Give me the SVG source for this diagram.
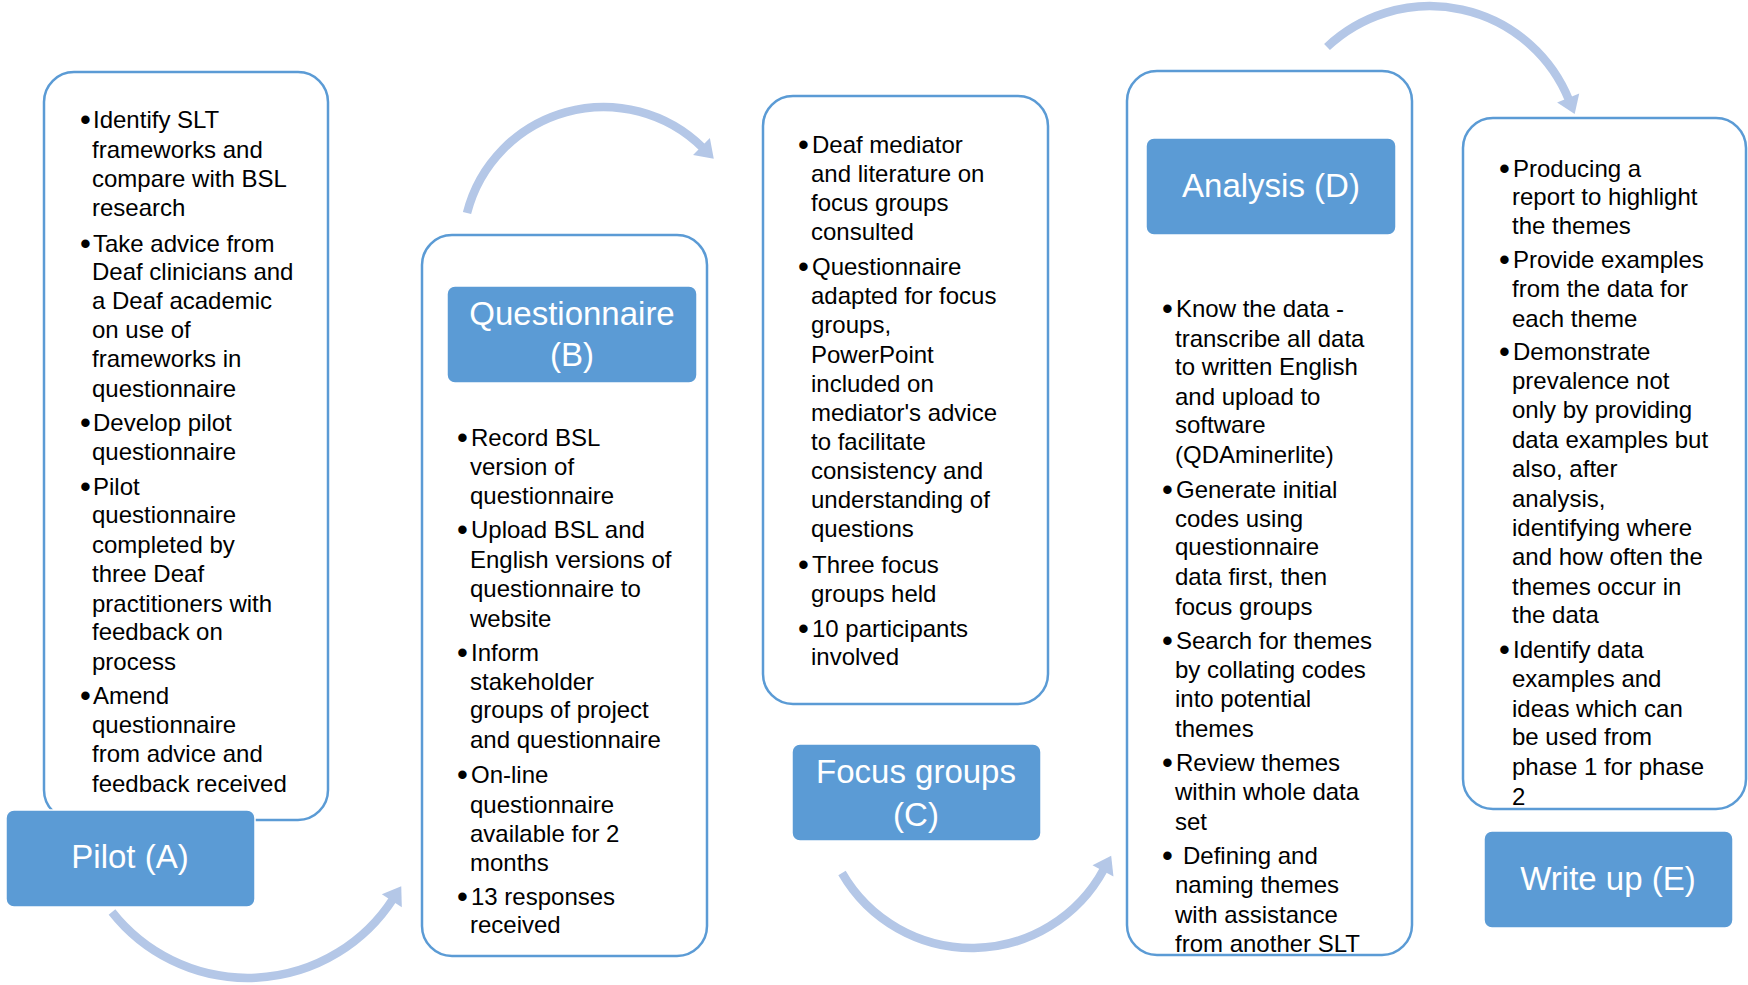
<svg xmlns="http://www.w3.org/2000/svg" width="1748" height="985" viewBox="0 0 1748 985">
<defs>
<style>
.outline{fill:#FFFFFF;stroke:#5B9BD5;stroke-width:2.5}
.label{fill:#5B9BD5;stroke:#FFFFFF;stroke-width:1.5}
.body{font-family:"Liberation Sans",Arial,sans-serif;font-size:24px;fill:#000000}
.bul{font-family:"Liberation Sans",Arial,sans-serif;font-size:31px;fill:#000000}
.title{font-family:"Liberation Sans",Arial,sans-serif;font-size:33px;fill:#FFFFFF;text-anchor:middle}
.arc{fill:none;stroke:#B4C7E7;stroke-width:8.5;marker-end:url(#head)}
</style>
<marker id="head" markerUnits="userSpaceOnUse" markerWidth="24" markerHeight="26" viewBox="0 -12 18 24" refX="2" refY="0" orient="auto">
<path d="M0,-11 L16,0 L0,11 Z" fill="#B4C7E7"/>
</marker>
</defs>
<rect width="1748" height="985" fill="#FFFFFF"/>

<g id="node-pilot">
<rect class="outline" x="44" y="72" width="284" height="748" rx="30"/>
<text class="bul"><tspan x="80" y="130">•</tspan><tspan x="80" y="254">•</tspan><tspan x="80" y="433">•</tspan><tspan x="80" y="497">•</tspan><tspan x="80" y="706">•</tspan></text>
<text class="body">
<tspan x="93" y="128">Identify SLT</tspan>
<tspan x="92" y="158">frameworks and</tspan>
<tspan x="92" y="187">compare with BSL</tspan>
<tspan x="92" y="216">research</tspan>
<tspan x="93" y="252">Take advice from</tspan>
<tspan x="92" y="280">Deaf clinicians and</tspan>
<tspan x="92" y="309">a Deaf academic</tspan>
<tspan x="92" y="338">on use of</tspan>
<tspan x="92" y="367">frameworks in</tspan>
<tspan x="92" y="397">questionnaire</tspan>
<tspan x="93" y="431">Develop pilot</tspan>
<tspan x="92" y="460">questionnaire</tspan>
<tspan x="93" y="495">Pilot</tspan>
<tspan x="92" y="523">questionnaire</tspan>
<tspan x="92" y="553">completed by</tspan>
<tspan x="92" y="582">three Deaf</tspan>
<tspan x="92" y="612">practitioners with</tspan>
<tspan x="92" y="640">feedback on</tspan>
<tspan x="92" y="670">process</tspan>
<tspan x="93" y="704">Amend</tspan>
<tspan x="92" y="733">questionnaire</tspan>
<tspan x="92" y="762">from advice and</tspan>
<tspan x="92" y="792">feedback received</tspan>
</text>
<rect class="label" x="6" y="810" width="249" height="97" rx="8"/>
<text class="title" x="130" y="868">Pilot (A)</text>
</g>

<g id="node-questionnaire">
<rect class="outline" x="422" y="235" width="285" height="721" rx="30"/>
<rect class="label" x="447" y="286" width="250" height="97" rx="8"/>
<text class="title"><tspan x="572" y="325">Questionnaire</tspan><tspan x="572" y="366">(B)</tspan></text>
<text class="bul"><tspan x="457" y="448">•</tspan><tspan x="457" y="540">•</tspan><tspan x="457" y="663">•</tspan><tspan x="457" y="785">•</tspan><tspan x="457" y="907">•</tspan></text>
<text class="body">
<tspan x="471" y="446">Record BSL</tspan>
<tspan x="470" y="475">version of</tspan>
<tspan x="470" y="504">questionnaire</tspan>
<tspan x="471" y="538">Upload BSL and</tspan>
<tspan x="470" y="568">English versions of</tspan>
<tspan x="470" y="597">questionnaire to</tspan>
<tspan x="470" y="627">website</tspan>
<tspan x="471" y="661">Inform</tspan>
<tspan x="470" y="690">stakeholder</tspan>
<tspan x="470" y="718">groups of project</tspan>
<tspan x="470" y="748">and questionnaire</tspan>
<tspan x="471" y="783">On-line</tspan>
<tspan x="470" y="813">questionnaire</tspan>
<tspan x="470" y="842">available for 2</tspan>
<tspan x="470" y="871">months</tspan>
<tspan x="471" y="905">13 responses</tspan>
<tspan x="470" y="933">received</tspan>
</text>
</g>

<g id="node-focus">
<rect class="outline" x="763" y="96" width="285" height="608" rx="30"/>
<text class="bul"><tspan x="798" y="155">•</tspan><tspan x="798" y="277">•</tspan><tspan x="798" y="575">•</tspan><tspan x="798" y="639">•</tspan></text>
<text class="body">
<tspan x="812" y="153">Deaf mediator</tspan>
<tspan x="811" y="182">and literature on</tspan>
<tspan x="811" y="211">focus groups</tspan>
<tspan x="811" y="240">consulted</tspan>
<tspan x="812" y="275">Questionnaire</tspan>
<tspan x="811" y="304">adapted for focus</tspan>
<tspan x="811" y="333">groups,</tspan>
<tspan x="811" y="363">PowerPoint</tspan>
<tspan x="811" y="392">included on</tspan>
<tspan x="811" y="421">mediator's advice</tspan>
<tspan x="811" y="450">to facilitate</tspan>
<tspan x="811" y="479">consistency and</tspan>
<tspan x="811" y="508">understanding of</tspan>
<tspan x="811" y="537">questions</tspan>
<tspan x="812" y="573">Three focus</tspan>
<tspan x="811" y="602">groups held</tspan>
<tspan x="812" y="637">10 participants</tspan>
<tspan x="811" y="665">involved</tspan>
</text>
<rect class="label" x="792" y="744" width="249" height="97" rx="8"/>
<text class="title"><tspan x="916" y="783">Focus groups</tspan><tspan x="916" y="826">(C)</tspan></text>
</g>

<g id="node-analysis">
<rect class="outline" x="1127" y="71" width="285" height="884" rx="30"/>
<rect class="label" x="1146" y="138" width="250" height="97" rx="8"/>
<text class="title" x="1271" y="197">Analysis (D)</text>
<text class="bul"><tspan x="1162" y="319">•</tspan><tspan x="1162" y="500">•</tspan><tspan x="1162" y="651">•</tspan><tspan x="1162" y="773">•</tspan><tspan x="1162" y="866">•</tspan></text>
<text class="body">
<tspan x="1176" y="317">Know the data -</tspan>
<tspan x="1175" y="347">transcribe all data</tspan>
<tspan x="1175" y="375">to written English</tspan>
<tspan x="1175" y="405">and upload to</tspan>
<tspan x="1175" y="433">software</tspan>
<tspan x="1175" y="463">(QDAminerlite)</tspan>
<tspan x="1176" y="498">Generate initial</tspan>
<tspan x="1175" y="527">codes using</tspan>
<tspan x="1175" y="555">questionnaire</tspan>
<tspan x="1175" y="585">data first, then</tspan>
<tspan x="1175" y="615">focus groups</tspan>
<tspan x="1176" y="649">Search for themes</tspan>
<tspan x="1175" y="678">by collating codes</tspan>
<tspan x="1175" y="707">into potential</tspan>
<tspan x="1175" y="737">themes</tspan>
<tspan x="1176" y="771">Review themes</tspan>
<tspan x="1175" y="800">within whole data</tspan>
<tspan x="1175" y="830">set</tspan>
<tspan x="1183" y="864">Defining and</tspan>
<tspan x="1175" y="893">naming themes</tspan>
<tspan x="1175" y="923">with assistance</tspan>
<tspan x="1175" y="952">from another SLT</tspan>
</text>
</g>

<g id="node-writeup">
<rect class="outline" x="1463" y="118" width="283" height="691" rx="30"/>
<text class="bul"><tspan x="1499" y="179">•</tspan><tspan x="1499" y="270">•</tspan><tspan x="1499" y="362">•</tspan><tspan x="1499" y="660">•</tspan></text>
<text class="body">
<tspan x="1513" y="177">Producing a</tspan>
<tspan x="1512" y="205">report to highlight</tspan>
<tspan x="1512" y="234">the themes</tspan>
<tspan x="1513" y="268">Provide examples</tspan>
<tspan x="1512" y="297">from the data for</tspan>
<tspan x="1512" y="327">each theme</tspan>
<tspan x="1513" y="360">Demonstrate</tspan>
<tspan x="1512" y="389">prevalence not</tspan>
<tspan x="1512" y="418">only by providing</tspan>
<tspan x="1512" y="448">data examples but</tspan>
<tspan x="1512" y="477">also, after</tspan>
<tspan x="1512" y="507">analysis,</tspan>
<tspan x="1512" y="536">identifying where</tspan>
<tspan x="1512" y="565">and how often the</tspan>
<tspan x="1512" y="595">themes occur in</tspan>
<tspan x="1512" y="623">the data</tspan>
<tspan x="1513" y="658">Identify data</tspan>
<tspan x="1512" y="687">examples and</tspan>
<tspan x="1512" y="717">ideas which can</tspan>
<tspan x="1512" y="745">be used from</tspan>
<tspan x="1512" y="775">phase 1 for phase</tspan>
<tspan x="1512" y="805">2</tspan>
</text>
<rect class="label" x="1484" y="831" width="249" height="97" rx="8"/>
<text class="title" x="1608" y="890">Write up (E)</text>
</g>

<g id="connectors">
<path class="arc" d="M 112 912 A 173 173 0 0 0 393 899"/>
<path class="arc" d="M 467 213 A 141 141 0 0 1 703 148"/>
<path class="arc" d="M 842 873 A 150 150 0 0 0 1104 869"/>
<path class="arc" d="M 1327 47 A 150 150 0 0 1 1569 100"/>
</g>
</svg>
